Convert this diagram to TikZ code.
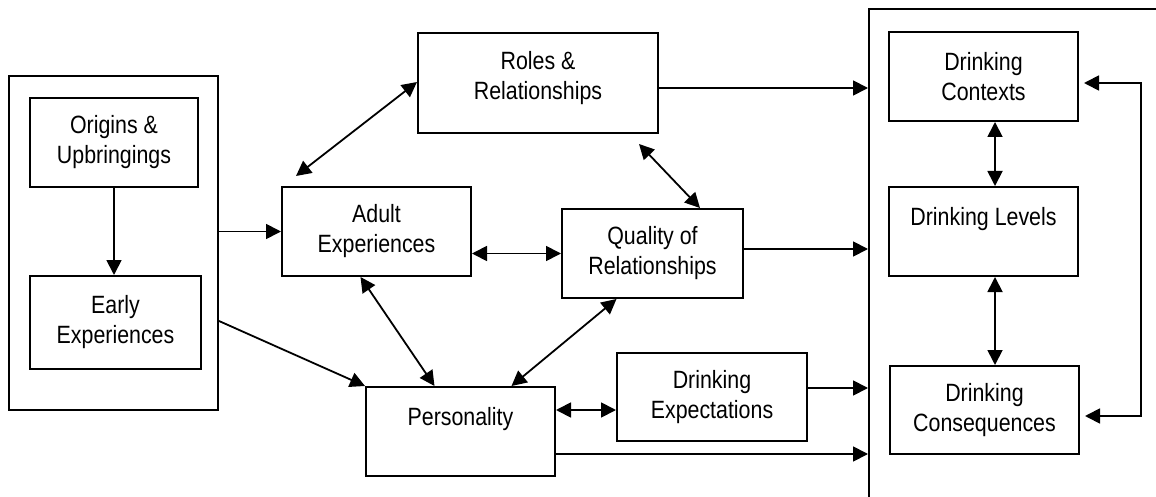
\documentclass[tikz,border=0pt]{standalone}
\usepackage{fontspec}
\setmainfont{Liberation Sans}[FakeStretch=0.855]
\usetikzlibrary{arrows.meta}
\begin{document}
\begin{tikzpicture}[x=1pt,y=-1pt,
  boxnode/.style={draw, line width=2pt, rectangle, inner sep=0pt, align=center,
    font=\fontsize{25}{30}\selectfont},
  groupbox/.style={draw, line width=2pt, rectangle, inner sep=0pt},
  link/.style={line width=1.8pt, -{Triangle[length=15pt,width=15pt]}},
  duallink/.style={line width=1.8pt, {Triangle[length=15pt,width=15pt]}-{Triangle[length=15pt,width=15pt]}}]
\useasboundingbox (0,0) rectangle (1156,497);

% left group: background factors
\node[groupbox, minimum width=209pt, minimum height=334pt] (outerL) at (113.5,243) {};
\node[boxnode, minimum width=168pt, minimum height=89pt] (origins) at (114,142.5) {Origins \&\\Upbringings};
\node[boxnode, minimum width=171pt, minimum height=93pt] (early) at (115.5,322.5) {Early\\Experiences};

% middle factors
\node[boxnode, minimum width=240pt, minimum height=100pt] (roles) at (538,83) {Roles \&\\Relationships\\[-14pt]\mbox{}};
\node[boxnode, minimum width=189pt, minimum height=89pt] (adult) at (376.5,231.5) {Adult\\Experiences};
\node[boxnode, minimum width=181pt, minimum height=89pt] (quality) at (652.5,253.5) {Quality of\\Relationships};
\node[boxnode, minimum width=189pt, minimum height=89pt] (personality) at (460.5,431.5) {Personality\\\mbox{}};
\node[boxnode, minimum width=190pt, minimum height=88pt] (expect) at (712,397) {Drinking\\Expectations};

% right group: drinking outcomes (runs past the page edge)
\node[groupbox, minimum width=301pt, minimum height=501pt] (outerR) at (1019.5,259.5) {};
\node[boxnode, minimum width=189pt, minimum height=89pt] (contexts) at (983.5,76.5) {Drinking\\Contexts};
\node[boxnode, minimum width=189pt, minimum height=89pt] (levels) at (983.5,231.5) {Drinking Levels\\\mbox{}};
\node[boxnode, minimum width=189pt, minimum height=88pt] (conseq) at (984.5,410) {Drinking\\Consequences};

% left group links
\draw[link] (origins.south) -- (origins.south |- early.north);
\draw[link] (outerL.east |- adult.west) -- (adult.west);
\draw[link] ([yshift=-78pt]outerL.east) -- (personality.north west);

% links among middle factors
\draw[duallink] ([shift={(15pt,10pt)}]adult.north west) -- ([yshift=1pt]roles.west);
\draw[duallink] (adult.east |- quality.west) -- (quality.west);
\draw[duallink] ([shift={(101pt,-10pt)}]roles.south) -- ([xshift=47.5pt]quality.north);
\draw[duallink] ([xshift=-16pt]adult.south) -- ([xshift=-26pt]personality.north);
\draw[duallink] ([xshift=-36pt]quality.south) -- ([xshift=51pt]personality.north);
\coordinate (pe) at ([yshift=21.5pt]personality.east);
\draw[duallink] (pe) -- (pe -| expect.west);

% links into the outcome group
\coordinate (r1) at ([yshift=-5pt]roles.east);
\draw[link] (r1) -- (r1 -| outerR.west);
\coordinate (q1) at ([yshift=4.5pt]quality.east);
\draw[link] (q1) -- (q1 -| outerR.west);
\coordinate (e1) at ([yshift=9pt]expect.east);
\draw[link] (e1) -- (e1 -| outerR.west);
\coordinate (p1) at ([yshift=-22.5pt]personality.east);
\draw[link] (p1) -- (p1 -| outerR.west);

% links among outcomes
\draw[duallink] ([xshift=11.5pt]contexts.south) -- ([xshift=11.5pt]levels.north);
\draw[duallink] ([xshift=11.5pt]levels.south) -- ([xshift=10.5pt]conseq.north);

% feedback loop on the right
\coordinate (c1) at ([shift={(5pt,-6.5pt)}]contexts.east);
\coordinate (c2) at ([shift={(5pt,-6pt)}]conseq.east);
\coordinate (fb) at (1141,0);
\draw[duallink] (c1) -- (c1 -| fb) -- (c2 -| fb) -- (c2);
\end{tikzpicture}
\end{document}
